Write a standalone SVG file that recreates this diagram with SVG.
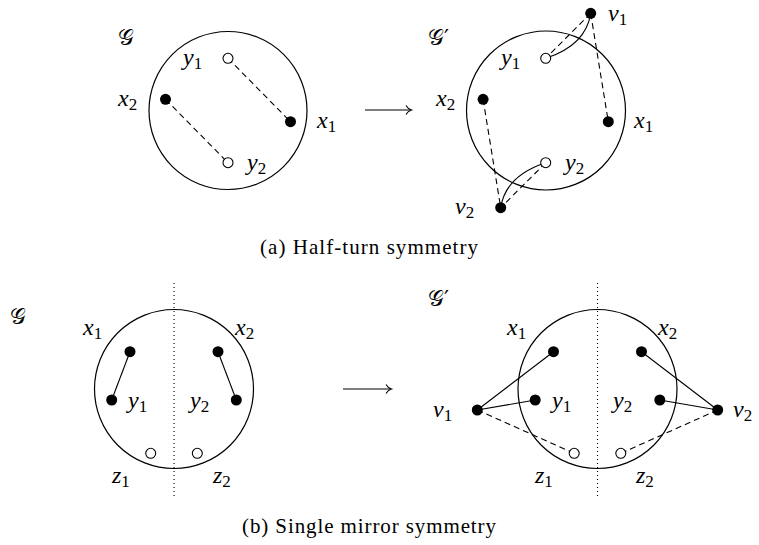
<svg xmlns="http://www.w3.org/2000/svg" width="759" height="545" viewBox="0 0 759 545">
<style>
.reg{fill:none;stroke:#000;stroke-width:1.2}
.dot{fill:#000}
.open{fill:#fff;stroke:#000;stroke-width:1.1}
.sol{fill:none;stroke:#000;stroke-width:1.1}
.dash{fill:none;stroke:#000;stroke-width:1.1;stroke-dasharray:6 4}
.mirror{stroke:#000;stroke-width:1.1;stroke-dasharray:1 3}
.arr{fill:none;stroke:#000;stroke-width:1.1}
.m{font-family:'Liberation Serif','DejaVu Serif',serif;font-style:italic;font-size:24px;fill:#000}
.sub{font-style:normal;font-size:17px}
.cal{font-family:'DejaVu Sans',sans-serif;font-size:22px;fill:#000}
.cap{font-family:'Liberation Serif','DejaVu Serif',serif;font-size:21px;fill:#000}
</style>

<g id="regions">
<circle class="reg" cx="228" cy="110.5" r="79"/>
<circle class="reg" cx="546" cy="110.5" r="79.5"/>
<circle class="reg" cx="174" cy="389" r="79.5"/>
<circle class="reg" cx="597.5" cy="389" r="79.5"/>
<line class="mirror" x1="174" y1="283" x2="174" y2="497"/>
<line class="mirror" x1="597.5" y1="283" x2="597.5" y2="497"/>
</g>

<g id="connectors">
<line class="dash" x1="228" y1="58.3" x2="290.5" y2="121.7"/>
<line class="dash" x1="165.5" y1="99.3" x2="228" y2="162.7"/>
<line class="dash" x1="590.7" y1="13.3" x2="545.7" y2="58.3"/>
<line class="dash" x1="590.7" y1="13.3" x2="608.3" y2="121.7"/>
<line class="dash" x1="483.1" y1="99.3" x2="500.7" y2="207.7"/>
<line class="dash" x1="545.7" y1="162.7" x2="500.7" y2="207.7"/>
<path class="sol" d="M545.7,58.3 C568,51 587,38 590.7,13.3"/>
<path class="sol" d="M545.7,162.7 C523.4,170 504.4,183 500.7,207.7"/>
<line class="sol" x1="130" y1="351.7" x2="111.7" y2="400"/>
<line class="sol" x1="218" y1="351.7" x2="236.3" y2="400"/>
<line class="sol" x1="477.3" y1="410" x2="553.5" y2="351.7"/>
<line class="sol" x1="477.3" y1="410" x2="535.2" y2="400"/>
<line class="sol" x1="717.7" y1="410" x2="641.5" y2="351.7"/>
<line class="sol" x1="717.7" y1="410" x2="659.8" y2="400"/>
<line class="dash" x1="477.3" y1="410" x2="574.2" y2="453.3"/>
<line class="dash" x1="717.7" y1="410" x2="620.8" y2="453.3"/>
<line class="arr" x1="365" y1="110" x2="411" y2="110"/>
<path class="arr" d="M406,105.5 Q408,109 411.5,110 Q408,111 406,114.5"/>
<line class="arr" x1="343" y1="389" x2="391" y2="389"/>
<path class="arr" d="M386,384.5 Q388,388 391.5,389 Q388,390 386,393.5"/>
</g>

<g id="G_a"><text class="cal" x="118" y="45">𝒢</text></g>
<g id="a_y1"><circle class="open" cx="228" cy="58.3" r="5"/><text class="m" x="183" y="65">y<tspan class="sub" dy="4">1</tspan></text></g>
<g id="a_x2"><circle class="dot" cx="165.5" cy="99.3" r="5.5"/><text class="m" x="118" y="106">x<tspan class="sub" dy="4">2</tspan></text></g>
<g id="a_x1"><circle class="dot" cx="290.5" cy="121.7" r="5.5"/><text class="m" x="317" y="128">x<tspan class="sub" dy="4">1</tspan></text></g>
<g id="a_y2"><circle class="open" cx="228" cy="162.7" r="5"/><text class="m" x="247" y="170">y<tspan class="sub" dy="4">2</tspan></text></g>

<g id="Gp_a"><text class="cal" x="428" y="45">𝒢′</text></g>
<g id="ap_v1"><circle class="dot" cx="590.7" cy="13.3" r="5.5"/><text class="m" x="608" y="21">v<tspan class="sub" dy="4">1</tspan></text></g>
<g id="ap_y1"><circle class="open" cx="545.7" cy="58.3" r="5"/><text class="m" x="501" y="65">y<tspan class="sub" dy="4">1</tspan></text></g>
<g id="ap_x2"><circle class="dot" cx="483.1" cy="99.3" r="5.5"/><text class="m" x="436" y="106">x<tspan class="sub" dy="4">2</tspan></text></g>
<g id="ap_x1"><circle class="dot" cx="608.3" cy="121.7" r="5.5"/><text class="m" x="634" y="128">x<tspan class="sub" dy="4">1</tspan></text></g>
<g id="ap_y2"><circle class="open" cx="545.7" cy="162.7" r="5"/><text class="m" x="565" y="170">y<tspan class="sub" dy="4">2</tspan></text></g>
<g id="ap_v2"><circle class="dot" cx="500.7" cy="207.7" r="5.5"/><text class="m" x="455" y="214">v<tspan class="sub" dy="4">2</tspan></text></g>

<text class="cap" x="369" y="254" text-anchor="middle" textLength="218">(a) Half-turn symmetry</text>

<g id="G_b"><text class="cal" x="10" y="324">𝒢</text></g>
<g id="b_x1"><circle class="dot" cx="130" cy="351.7" r="5.5"/><text class="m" x="83" y="335">x<tspan class="sub" dy="4">1</tspan></text></g>
<g id="b_x2"><circle class="dot" cx="218" cy="351.7" r="5.5"/><text class="m" x="235" y="335">x<tspan class="sub" dy="4">2</tspan></text></g>
<g id="b_y1"><circle class="dot" cx="111.7" cy="400" r="5.5"/><text class="m" x="128" y="408">y<tspan class="sub" dy="4">1</tspan></text></g>
<g id="b_y2"><circle class="dot" cx="236.3" cy="400" r="5.5"/><text class="m" x="190" y="408">y<tspan class="sub" dy="4">2</tspan></text></g>
<g id="b_z1"><circle class="open" cx="150.7" cy="453.3" r="5"/><text class="m" x="112" y="483">z<tspan class="sub" dy="4">1</tspan></text></g>
<g id="b_z2"><circle class="open" cx="197.3" cy="453.3" r="5"/><text class="m" x="213" y="483">z<tspan class="sub" dy="4">2</tspan></text></g>

<g id="Gp_b"><text class="cal" x="428" y="306">𝒢′</text></g>
<g id="bp_v1"><circle class="dot" cx="477.3" cy="410" r="5.5"/><text class="m" x="433" y="417">v<tspan class="sub" dy="4">1</tspan></text></g>
<g id="bp_v2"><circle class="dot" cx="717.7" cy="410" r="5.5"/><text class="m" x="733" y="417">v<tspan class="sub" dy="4">2</tspan></text></g>
<g id="bp_x1"><circle class="dot" cx="553.5" cy="351.7" r="5.5"/><text class="m" x="507" y="335">x<tspan class="sub" dy="4">1</tspan></text></g>
<g id="bp_x2"><circle class="dot" cx="641.5" cy="351.7" r="5.5"/><text class="m" x="658" y="335">x<tspan class="sub" dy="4">2</tspan></text></g>
<g id="bp_y1"><circle class="dot" cx="535.2" cy="400" r="5.5"/><text class="m" x="552" y="408">y<tspan class="sub" dy="4">1</tspan></text></g>
<g id="bp_y2"><circle class="dot" cx="659.8" cy="400" r="5.5"/><text class="m" x="613" y="408">y<tspan class="sub" dy="4">2</tspan></text></g>
<g id="bp_z1"><circle class="open" cx="574.2" cy="453.3" r="5"/><text class="m" x="535" y="483">z<tspan class="sub" dy="4">1</tspan></text></g>
<g id="bp_z2"><circle class="open" cx="620.8" cy="453.3" r="5"/><text class="m" x="636" y="483">z<tspan class="sub" dy="4">2</tspan></text></g>

<text class="cap" x="369" y="533" text-anchor="middle" textLength="254">(b) Single mirror symmetry</text>
</svg>
